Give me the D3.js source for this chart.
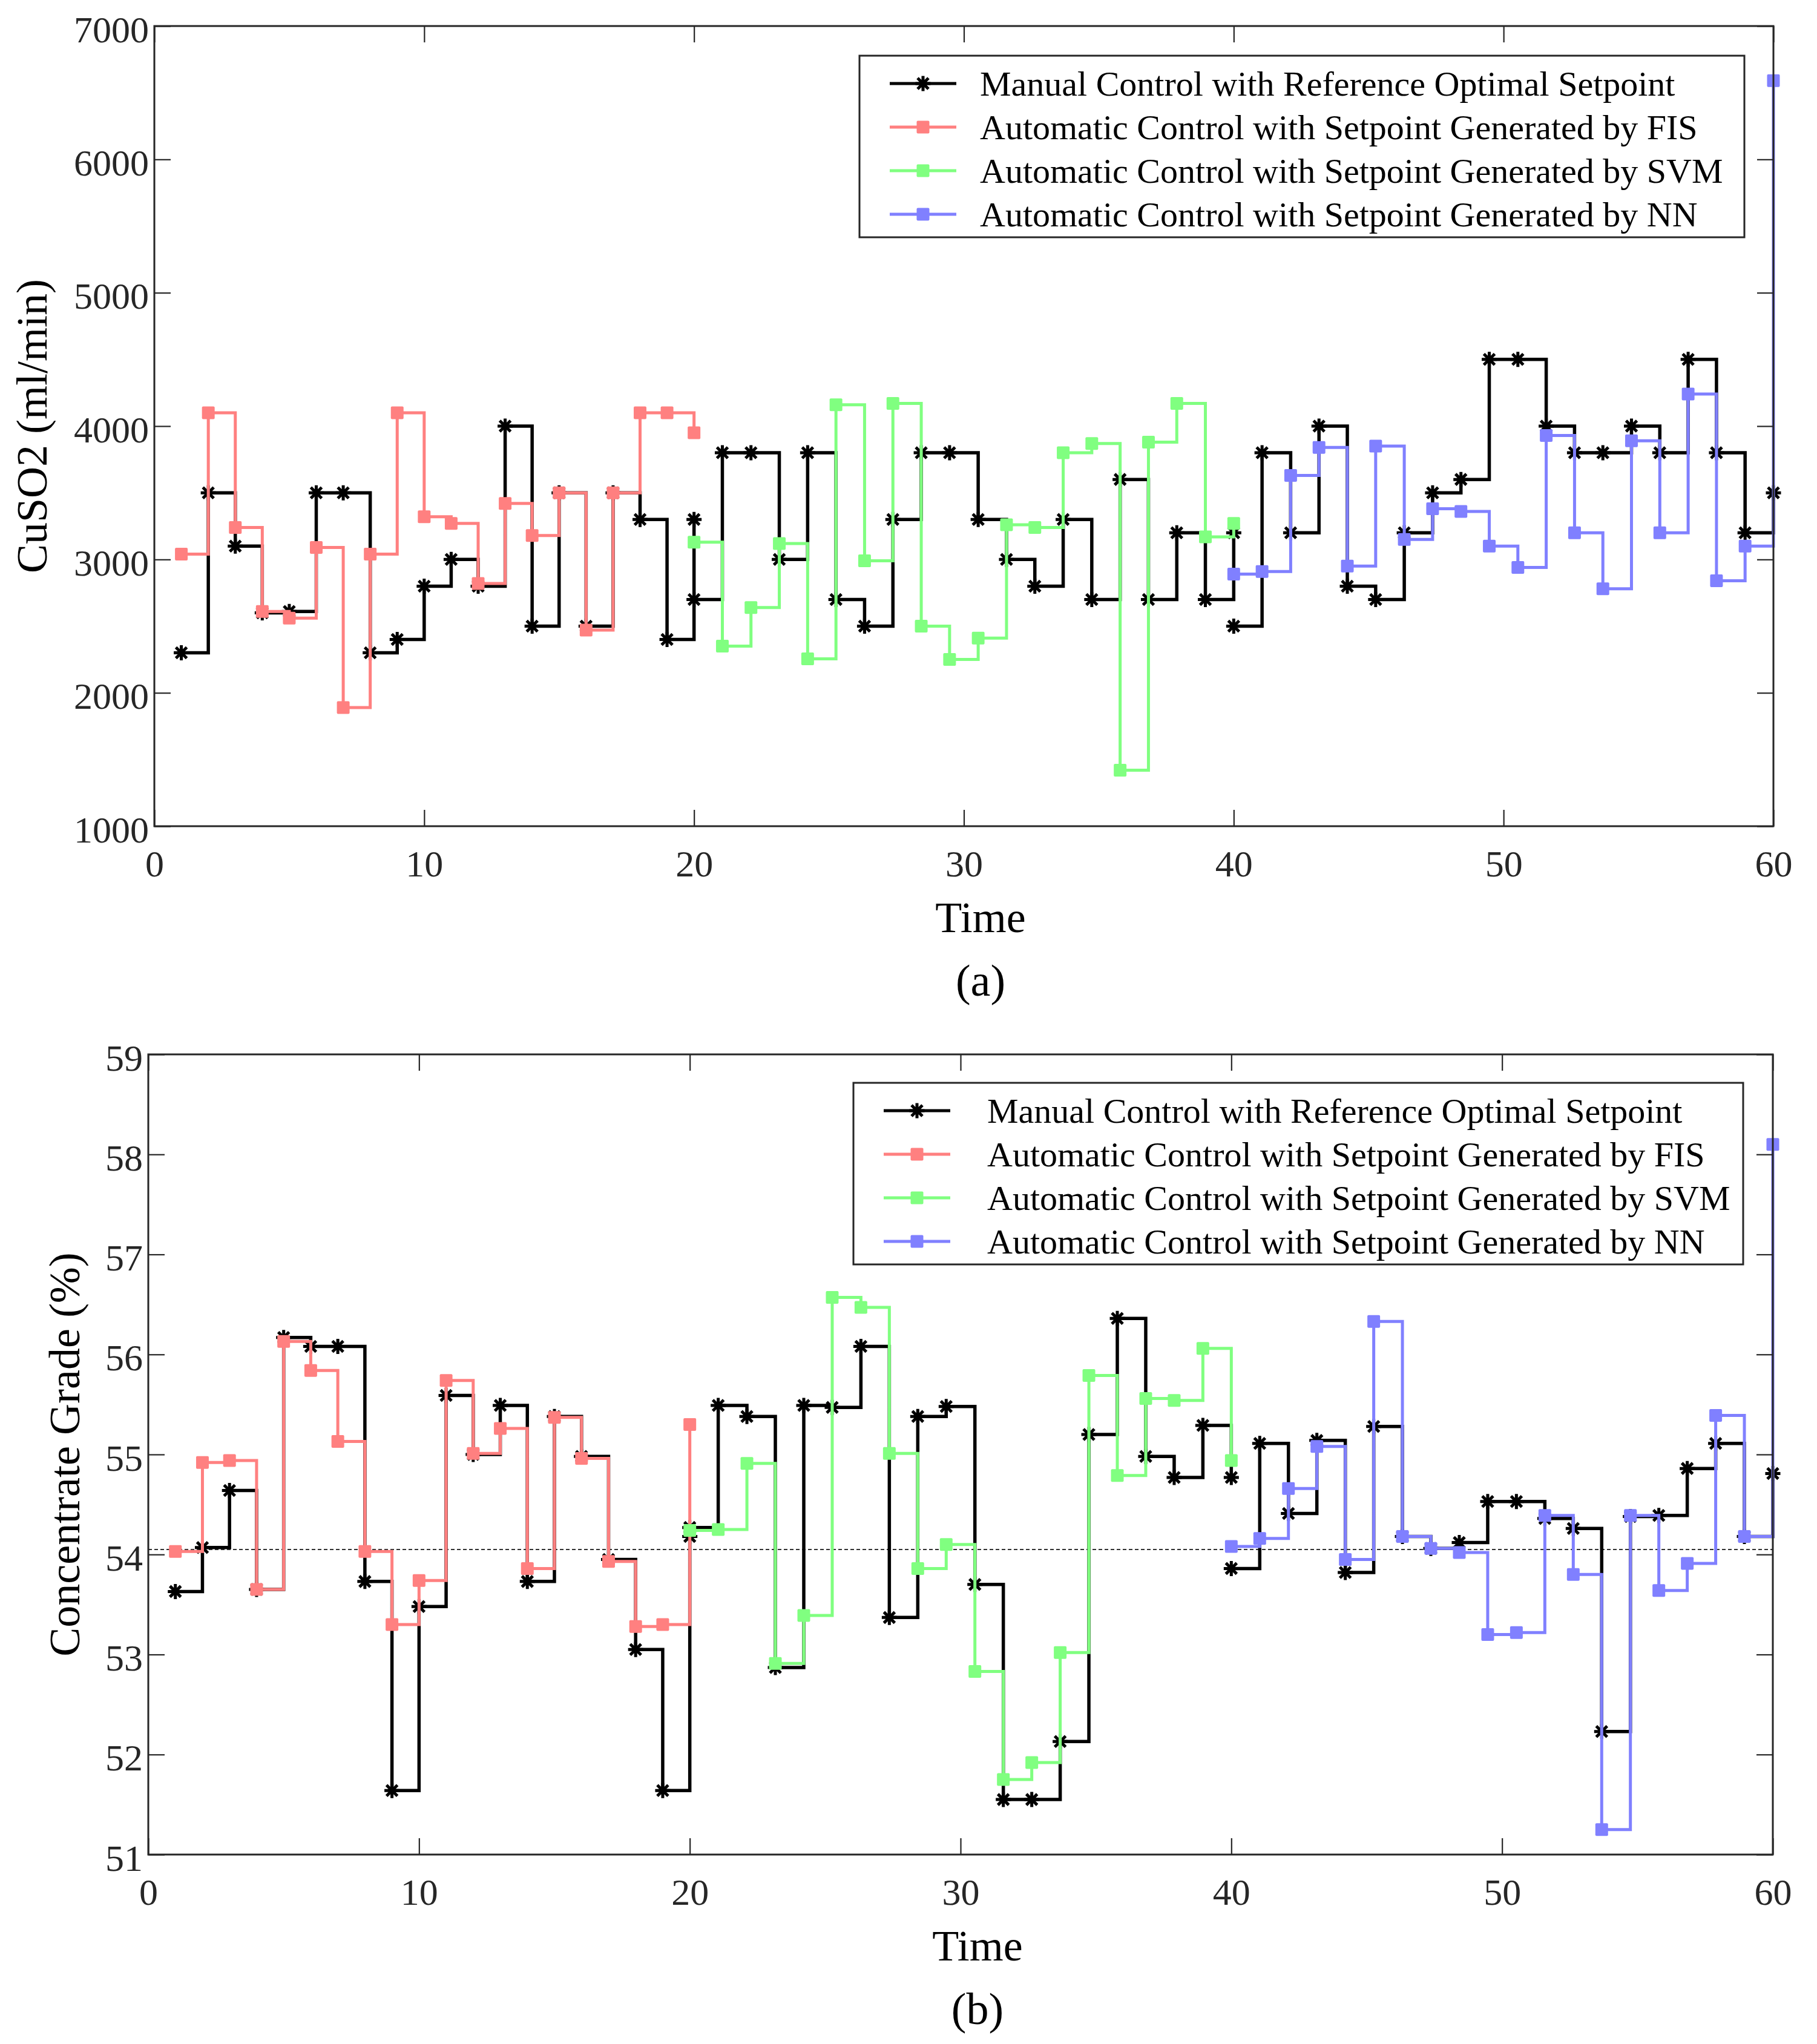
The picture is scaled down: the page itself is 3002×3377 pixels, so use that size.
<!DOCTYPE html>
<html>
<head>
<meta charset="utf-8">
<script src="https://cdn.jsdelivr.net/npm/d3@7"></script>
<style>
body { margin: 0; background: #fff; }
svg { display: block; }
text { font-family: "Liberation Serif", "Times New Roman", serif; }
</style>
</head>
<body>
<svg id="fig" width="3002" height="3377"></svg>
<script>
// time stamps of the three 20-sample periods
const time1 = [1, 2, 3, 4, 5, 6, 7, 8, 9, 10, 11, 12, 13, 14, 15, 16, 17, 18, 19, 20]
const time2 = [20, 21.05, 22.11, 23.16, 24.21, 25.26, 26.32, 27.37, 28.42, 29.47, 30.53, 31.58, 32.63, 33.68, 34.74, 35.79, 36.84, 37.89, 38.95, 40]
const time3 = [40, 41.05, 42.11, 43.16, 44.21, 45.26, 46.32, 47.37, 48.42, 49.47, 50.53, 51.58, 52.63, 53.68, 54.74, 55.79, 56.84, 57.89, 58.95, 60]

// (a) CuSO2 flow, ml/min
const manualA1 = [2300, 3500, 3100, 2600, 2610, 3500, 3500, 2300, 2400, 2800, 3000, 2800, 4000, 2500, 3500, 2500, 3500, 3300, 2400, 3300]
const manualA2 = [2700, 3800, 3800, 3000, 3800, 2700, 2500, 3300, 3800, 3800, 3300, 3000, 2800, 3300, 2700, 3600, 2700, 3200, 2700, 3200]
const manualA3 = [2500, 3800, 3200, 4000, 2800, 2700, 3200, 3500, 3600, 4500, 4500, 4000, 3800, 3800, 4000, 3800, 4500, 3800, 3200, 3500]
const fisA = [3040, 4100, 3240, 2610, 2560, 3090, 1890, 3040, 4100, 3320, 3270, 2820, 3420, 3180, 3500, 2470, 3500, 4100, 4100, 3950]
const svmA = [3130, 2350, 2640, 3120, 2255, 4160, 2990, 4170, 2500, 2250, 2410, 3260, 3240, 3800, 3870, 1420, 3880, 4170, 3170, 3270]
const nnA = [2890, 2910, 3630, 3840, 2950, 3850, 3150, 3380, 3360, 3100, 2940, 3930, 3200, 2780, 3890, 3200, 4240, 2840, 3100, 6590]

// (b) concentrate grade, %
const manualB1 = [53.63, 54.07, 54.64, 53.65, 56.17, 56.08, 56.08, 53.73, 51.64, 53.48, 55.59, 55.00, 55.49, 53.73, 55.38, 54.98, 53.95, 53.05, 51.64, 54.18]
const manualB2 = [54.27, 55.49, 55.38, 52.87, 55.49, 55.47, 56.08, 53.37, 55.38, 55.48, 53.70, 51.55, 51.55, 52.13, 55.20, 56.36, 54.98, 54.77, 55.29, 54.77]
const manualB3 = [53.86, 55.11, 54.41, 55.14, 53.82, 55.28, 54.18, 54.06, 54.12, 54.53, 54.53, 54.36, 54.26, 52.23, 54.38, 54.39, 54.86, 55.11, 54.18, 54.81]
const fisB = [54.03, 54.92, 54.94, 53.65, 56.13, 55.84, 55.13, 54.03, 53.30, 53.74, 55.74, 55.01, 55.26, 53.86, 55.37, 54.96, 53.93, 53.28, 53.30, 55.30]
const svmB = [54.24, 54.25, 54.91, 52.91, 53.39, 56.57, 56.47, 55.01, 53.86, 54.10, 52.83, 51.75, 51.92, 53.02, 55.79, 54.79, 55.56, 55.54, 56.06, 54.94]
const nnB = [54.08, 54.16, 54.66, 55.08, 53.95, 56.33, 54.18, 54.06, 54.02, 53.20, 53.22, 54.39, 53.80, 51.25, 54.39, 53.64, 53.91, 55.39, 54.18, 58.10]
const gradeTarget = 54.05

const xTicks = [0, 10, 20, 30, 40, 50, 60]
const yTicksA = [1000, 2000, 3000, 4000, 5000, 6000, 7000]
const yTicksB = [51, 52, 53, 54, 55, 56, 57, 58, 59]

const legendLabels = [
  "Manual Control with Reference Optimal Setpoint",
  "Automatic Control with Setpoint Generated by FIS",
  "Automatic Control with Setpoint Generated by SVM",
  "Automatic Control with Setpoint Generated by NN"
]
const colors = ["#000000", "#ff8080", "#80ff80", "#8080ff"]

const svg = d3.select("#fig")
const axisColor = "#262626"
const serif = "'Liberation Serif', 'Times New Roman', serif"

function starPath(r) {
  const d = r * 0.72
  return "M" + (-r) + ",0L" + r + ",0M0," + (-r) + "L0," + r +
    "M" + (-d) + "," + (-d) + "L" + d + "," + d + "M" + (-d) + "," + d + "L" + d + "," + (-d)
}

function drawMarker(g, kind, cx, cy, color, size) {
  if (kind === "star") {
    g.append("path")
      .attr("d", starPath(size / 2))
      .attr("transform", "translate(" + cx + "," + cy + ")")
      .attr("stroke", color)
      .attr("stroke-width", 5)
      .attr("fill", "none")
  } else {
    g.append("rect")
      .attr("x", cx - size / 2).attr("y", cy - size / 2)
      .attr("width", size).attr("height", size)
      .attr("rx", 2)
      .attr("fill", color)
  }
}

function panel(cfg) {
  const x = d3.scaleLinear().domain([0, 60]).range([cfg.left, cfg.right])
  const y = d3.scaleLinear().domain(cfg.yDomain).range([cfg.bottom, cfg.top])
  const g = svg.append("g")

  if (cfg.refLine != null) {
    g.append("line")
      .attr("x1", x(0)).attr("x2", x(60))
      .attr("y1", y(cfg.refLine)).attr("y2", y(cfg.refLine))
      .attr("stroke", "#333").attr("stroke-width", 2)
      .attr("stroke-dasharray", "6,4")
  }

  const line = d3.line()
    .x(d => x(d[0]))
    .y(d => y(d[1]))
    .curve(d3.curveStepAfter)

  cfg.series.forEach(s => {
    const pts = s.t.map((t, i) => [t, s.v[i]])
    g.append("path")
      .datum(pts)
      .attr("d", line)
      .attr("fill", "none")
      .attr("stroke", s.color)
      .attr("stroke-width", s.marker === "star" ? 5.5 : 5)
    pts.forEach(p => drawMarker(g, s.marker, x(p[0]), y(p[1]), s.color, s.marker === "star" ? 25 : 21))
  })

  // legend
  const lg = svg.append("g")
  const L = cfg.legend
  lg.append("rect")
    .attr("x", L.x).attr("y", L.y).attr("width", L.w).attr("height", L.h)
    .attr("fill", "#fff").attr("stroke", axisColor).attr("stroke-width", 3)
  legendLabels.forEach((lab, i) => {
    const by = L.y + 66 + i * 72
    const my = by - 20
    lg.append("line")
      .attr("x1", L.x + 50).attr("x2", L.x + 160)
      .attr("y1", my).attr("y2", my)
      .attr("stroke", colors[i]).attr("stroke-width", 5)
    drawMarker(lg, i === 0 ? "star" : "square", L.x + 105, my, colors[i], i === 0 ? 25 : 21)
    lg.append("text")
      .attr("x", L.x + L.textDx).attr("y", by)
      .attr("font-size", 58)
      .attr("fill", "#000")
      .text(lab)
  })

  // frame
  svg.append("rect")
    .attr("x", cfg.left).attr("y", cfg.top)
    .attr("width", cfg.right - cfg.left).attr("height", cfg.bottom - cfg.top)
    .attr("fill", "none").attr("stroke", axisColor).attr("stroke-width", 3)

  const styleAxis = sel => {
    sel.attr("font-family", serif).attr("font-size", 62)
    sel.select(".domain").remove()
    sel.selectAll(".tick line").attr("stroke", axisColor).attr("stroke-width", 2.2)
    sel.selectAll("text")
      .attr("fill", axisColor)
      .attr("font-size", 62)
      .attr("font-family", serif)
  }

  svg.append("g")
    .attr("transform", "translate(0," + cfg.bottom + ")")
    .call(d3.axisBottom(x).tickValues(xTicks).tickSize(-27).tickPadding(39).tickFormat(d3.format("d")))
    .call(styleAxis)
  svg.append("g")
    .attr("transform", "translate(0," + cfg.top + ")")
    .call(d3.axisTop(x).tickValues(xTicks).tickSize(-27).tickFormat(""))
    .call(styleAxis)
  svg.append("g")
    .attr("transform", "translate(" + cfg.left + ",0)")
    .call(d3.axisLeft(y).tickValues(cfg.yTicks).tickSize(-27).tickPadding(9).tickFormat(d3.format("d")))
    .call(styleAxis)
    .selectAll("text").attr("dy", "0.42em")
  svg.append("g")
    .attr("transform", "translate(" + cfg.right + ",0)")
    .call(d3.axisRight(y).tickValues(cfg.yTicks).tickSize(-27).tickFormat(""))
    .call(styleAxis)

  // titles
  svg.append("text")
    .attr("transform", "translate(" + cfg.yTitleX + "," + (cfg.top + cfg.bottom) / 2 + ") rotate(-90)")
    .attr("text-anchor", "middle")
    .attr("font-size", 72)
    .attr("fill", "#000")
    .text(cfg.yTitle)
  svg.append("text")
    .attr("x", cfg.titleX).attr("y", cfg.bottom + 175)
    .attr("text-anchor", "middle")
    .attr("font-size", 72)
    .attr("fill", "#000")
    .text("Time")
  svg.append("text")
    .attr("x", cfg.titleX).attr("y", cfg.bottom + 280)
    .attr("text-anchor", "middle")
    .attr("font-size", 74)
    .attr("fill", "#000")
    .text(cfg.caption)
}

panel({
  left: 255, right: 2930, top: 43, bottom: 1365,
  yDomain: [1000, 7000], yTicks: yTicksA,
  yTitle: "CuSO2 (ml/min)", yTitleX: 77, titleX: 1620, caption: "(a)",
  refLine: null,
  legend: { x: 1420, y: 92, w: 1462, h: 300, textDx: 199 },
  series: [
    { t: time1, v: manualA1, color: colors[0], marker: "star" },
    { t: time2, v: manualA2, color: colors[0], marker: "star" },
    { t: time3, v: manualA3, color: colors[0], marker: "star" },
    { t: time1, v: fisA, color: colors[1], marker: "square" },
    { t: time2, v: svmA, color: colors[2], marker: "square" },
    { t: time3, v: nnA, color: colors[3], marker: "square" }
  ]
})

panel({
  left: 245, right: 2929, top: 1742, bottom: 3064,
  yDomain: [51, 59], yTicks: yTicksB,
  yTitle: "Concentrate Grade (%)", yTitleX: 131, titleX: 1615, caption: "(b)",
  refLine: gradeTarget,
  legend: { x: 1410, y: 1789, w: 1470, h: 300, textDx: 221 },
  series: [
    { t: time1, v: manualB1, color: colors[0], marker: "star" },
    { t: time2, v: manualB2, color: colors[0], marker: "star" },
    { t: time3, v: manualB3, color: colors[0], marker: "star" },
    { t: time1, v: fisB, color: colors[1], marker: "square" },
    { t: time2, v: svmB, color: colors[2], marker: "square" },
    { t: time3, v: nnB, color: colors[3], marker: "square" }
  ]
})
</script>
</body>
</html>
